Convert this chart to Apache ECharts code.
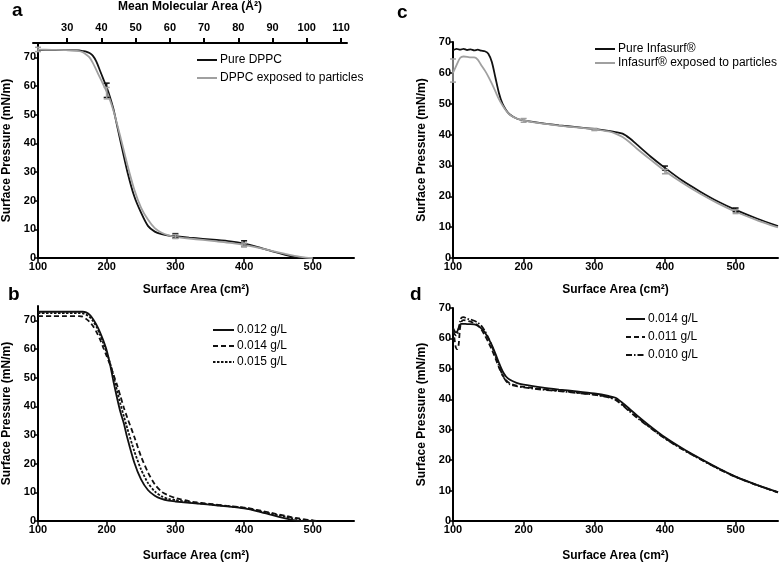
<!DOCTYPE html>
<html><head><meta charset="utf-8">
<script src="https://cdn.jsdelivr.net/npm/echarts@6/dist/echarts.min.js"></script>
<style>html,body{margin:0;padding:0;background:#fff}#c{width:779px;height:563px}</style>
</head><body><div id="c"></div>
<script>
// ---------- Panel a ----------
const aX = [100,120,140,160,165,170,175,180,185,190,195,200,205,210,215,220,230,240,250,260,270,280,290,300,320,340,360,380,400,420,440,460,470,480,490,500];
const aPure = [72.5,72.5,72.5,72.4,72.2,72.0,71.5,70.5,68.5,65.5,62.5,59.5,56.0,51.8,46.3,40.8,30.2,21.6,15.8,11.2,9.2,8.3,7.8,7.6,7.1,6.7,6.3,5.8,5.0,3.8,2.4,1.1,0.5,0.05,0,0];
const aExposed = [72.7,72.6,72.5,72.2,71.8,71.0,70.0,68.0,65.5,63.0,60.5,58.0,55.0,51.3,46.8,42.2,32.6,24.0,17.6,13.4,10.4,8.8,7.9,7.4,6.8,6.3,5.8,5.3,4.6,3.6,2.5,1.4,0.9,0.45,0.15,0];
const aPureErr = [[200,56,61],[300,7,8.5],[400,4,6]];
const aExposedErr = [[100,72,73.5],[200,55.5,59.5],[300,6.8,8.2],[400,4,5.2]];
const mmaTicks = [30,40,50,60,70,80,90,100,110];

// ---------- Panel b ----------
const bX = [100,120,140,160,165,170,175,180,185,190,195,200,205,210,215,220,225,230,240,250,260,270,280,290,300,325,350,375,400,420,440,460,470,480,490,500,505];
const b012 = [73,73,73,73,73,72.8,72,70.5,68.5,66,63,59.5,54.5,48.5,43,38,34,29,20.5,14.5,10.8,8.8,7.7,7.1,6.8,6.2,5.7,5.1,4.4,3.4,2.1,0.9,0.4,0.05,0,0,0];
const b014 = [71.5,71.5,71.5,71.5,71.3,70.5,69.5,68,66,63.5,60.5,57.5,54.5,51,47.5,43.5,39.5,36,29.5,22.5,17,12.8,10.2,8.9,8,6.7,6,5.3,4.7,3.8,2.8,1.8,1.3,0.9,0.5,0.2,0];
const b015 = [72.5,72.5,72.5,72.5,72.4,72,71.2,69.8,67.8,65.2,62,58.7,55,50.5,45.5,40.8,36.5,32.3,24.5,18,13.3,10.3,8.6,7.7,7.3,6.4,5.8,5.2,4.6,3.6,2.5,1.5,1,0.6,0.3,0.1,0];

// ---------- Panel c ----------
const cX = [100,105,110,115,120,125,130,135,140,145,150,155,160,165,170,175,180,190,200,225,250,275,300,320,330,340,350,360,380,400,425,450,475,500,530,560];
const cPure = [67.3,67.8,67.5,67.8,67.4,67.6,67.3,67.5,67.2,67.0,66.2,63.5,58.5,53.5,50.0,48.0,46.6,45.2,44.6,43.7,43.0,42.4,41.8,41.2,40.8,40.3,38.8,36.8,32.8,29.2,25.0,21.5,18.3,15.6,12.8,10.3];
const cExposed = [60.0,62.5,64.8,65.3,65.2,65.0,65.0,64.3,62.5,60.8,58.8,56.5,54.0,51.5,49.5,47.8,46.5,45.2,44.6,43.6,42.9,42.3,41.7,41.0,40.3,39.2,37.5,35.5,31.8,28.2,24.3,20.8,17.7,15.0,12.3,9.9];
const cPureErr = [[400,28.5,29.8],[500,15,16.2]];
const cExposedErr = [[100,57,64.5],[200,44,45.2],[300,41.3,42],[400,27.3,28.7],[500,14.4,15.6]];

// ---------- Panel d ----------
const dX = [100,102,104,106,108,110,112,115,120,125,130,135,140,145,150,155,160,165,170,175,180,190,200,225,250,275,300,320,330,340,350,360,380,400,425,450,475,500,530,560];
const d014 = [63.5,62.5,62,62.3,63.5,64.5,64.8,64.8,64.7,64.7,64.6,64.2,63.3,62,60,57.8,55,52,49.3,47.5,46.5,45.4,44.8,43.9,43.2,42.6,41.9,41.1,40.5,38.8,36.8,34.8,31,27.5,23.8,20.5,17.4,14.6,11.9,9.5];
const d011 = [63,60,57,56.5,58,63.5,65.5,66,65.8,65.5,65,64.3,63,61,58.8,56.3,53.5,50.5,48,46.3,45.3,44.5,44.1,43.4,42.8,42.2,41.5,40.8,40,38.2,36.3,34.3,30.6,27.2,23.6,20.4,17.3,14.5,11.8,9.4];
const d010 = [62.5,61.5,61,61.3,63,65.5,66.8,67,66.5,66.2,65.8,65.2,64.2,62.5,60.3,57.5,54.3,51,48,46,45,44.3,43.9,43.2,42.7,42.1,41.5,40.6,39.8,38,36,34,30.5,27.1,23.5,20.3,17.2,14.5,11.8,9.4];

const xTicks = [100,200,300,400,500];
const yTicksA = [0,10,20,30,40,50,60,70];

const FONT = 'Liberation Sans, Arial, sans-serif';
const BLACK = '#111';
const GRAY = '#a0a0a0';

function pairs(xs, ys){ return xs.map((x,i)=>[x, ys[i]]); }

function xAx(grid, gap){
  return {
    type:'value', gridIndex:grid, min:100, max:560, interval:100,
    position:'bottom',
    axisLine:{show:true, onZero:false, lineStyle:{color:'#000', width:2}},
    axisTick:{show:true, length:4, inside:false, lineStyle:{color:'#000', width:1.5}, customValues:xTicks},
    axisLabel:{color:'#000', fontFamily:FONT, fontWeight:'bold', fontSize:11, margin:3, customValues:xTicks},
    splitLine:{show:false},
    name:'Surface Area (cm²)', nameLocation:'middle', nameGap:gap,
    nameTextStyle:{color:'#000', fontFamily:FONT, fontWeight:'bold', fontSize:12}
  };
}
function yAx(grid, max){
  return {
    type:'value', gridIndex:grid, min:0, max:max, interval:10,
    axisLine:{show:true, onZero:false, lineStyle:{color:'#000', width:2}},
    axisTick:{show:true, length:4, lineStyle:{color:'#000', width:1.5}, customValues:yTicksA},
    axisLabel:{color:'#000', fontFamily:FONT, fontWeight:'bold', fontSize:11, margin:2, customValues:yTicksA},
    splitLine:{show:false},
    name:'Surface Pressure (mN/m)', nameLocation:'middle', nameGap:25, nameRotate:90,
    nameTextStyle:{color:'#000', fontFamily:FONT, fontWeight:'bold', fontSize:12}
  };
}

function lineS(name, xi, yi, data, color, type){
  return {
    type:'line', name:name, xAxisIndex:xi, yAxisIndex:yi, data:data,
    showSymbol:false, symbol:'none', smooth:0.25,
    lineStyle:{color:color, width:1.8, type:type||'solid'},
    itemStyle:{color:'rgba(0,0,0,0)', borderWidth:0},
    z:3, animation:false
  };
}
function errS(xi, yi, data, color){
  return {
    type:'custom', xAxisIndex:xi, yAxisIndex:yi, data:data, z:4, animation:false,
    encode:{x:0, y:[1,2]},
    renderItem:function(params, api){
      const x = api.value(0), lo = api.value(1), hi = api.value(2);
      const p1 = api.coord([x, lo]), p2 = api.coord([x, hi]);
      const w = 3;
      const st = {stroke:color, lineWidth:1.5};
      return {type:'group', children:[
        {type:'line', shape:{x1:p1[0], y1:p1[1], x2:p2[0], y2:p2[1]}, style:st},
        {type:'line', shape:{x1:p1[0]-w, y1:p1[1], x2:p1[0]+w, y2:p1[1]}, style:st},
        {type:'line', shape:{x1:p2[0]-w, y1:p2[1], x2:p2[0]+w, y2:p2[1]}, style:st}
      ]};
    }
  };
}
function legendAt(names, left, top, itemW, itemH, gap){
  return {
    data:names, orient:'vertical', left:left, top:top, itemWidth:itemW, itemHeight:itemH, itemGap:gap,
    padding:0, selectedMode:false,
    itemStyle:{opacity:0},
    textStyle:{color:'#000', fontFamily:FONT, fontSize:12, padding:[0,0,0,-2]},
    formatter:function(n){ return n.replace(/^d:/,''); }
  };
}

const chart = echarts.init(document.getElementById('c'), null, {renderer:'canvas'});
const option = {
  backgroundColor:'#fff',
  animation:false,
  grid:[
    {left:33, top:43, width:321, height:215},   // a
    {left:33, top:43, width:314, height:215},   // a top axis
    {left:33, top:306, width:321, height:217},  // b
    {left:453, top:42, width:325, height:216},  // c
    {left:453, top:308, width:325, height:217}  // d
  ],
  xAxis:[
    xAx(0, 26),
    {
      type:'value', gridIndex:1, min:20, max:111.75, interval:10, position:'top',
      axisLine:{show:true, onZero:false, lineStyle:{color:'#000', width:2}},
      axisTick:{show:true, length:5, lineStyle:{color:'#000', width:2}, customValues:mmaTicks},
      axisLabel:{color:'#000', fontFamily:FONT, fontWeight:'bold', fontSize:11, margin:10, customValues:mmaTicks},
      splitLine:{show:false},
      name:'Mean Molecular Area (Å²)', nameLocation:'middle', nameGap:30,
      nameTextStyle:{color:'#000', fontFamily:FONT, fontWeight:'bold', fontSize:12}
    },
    xAx(2, 29), xAx(3, 26), xAx(4, 29)
  ],
  yAxis:[
    yAx(0, 75),
    {type:'value', gridIndex:1, min:0, max:75, show:false},
    yAx(2, 75), yAx(3, 70), yAx(4, 70)
  ],
  legend:[
    legendAt(['Pure DPPC','DPPC exposed to particles'], 196, 54, 20, 12, 6),
    legendAt(['0.012 g/L','0.014 g/L','0.015 g/L'], 212, 324, 21, 12, 4),
    legendAt(['Pure Infasurf®','Infasurf® exposed to particles'], 594, 43, 20, 12, 2),
    legendAt(['d:0.014 g/L','d:0.011 g/L','d:0.010 g/L'], 625, 313, 19, 12, 6)
  ],
  graphic:[
    {type:'text', left:12, top:1, style:{text:'a', font:'bold 19px '+FONT, fill:'#000'}},
    {type:'text', left:8, top:285, style:{text:'b', font:'bold 19px '+FONT, fill:'#000'}},
    {type:'text', left:397, top:3, style:{text:'c', font:'bold 19px '+FONT, fill:'#000'}},
    {type:'text', left:410, top:285, style:{text:'d', font:'bold 19px '+FONT, fill:'#000'}}
  ],
  series:[
    lineS('Pure DPPC', 0, 0, pairs(aX, aPure), BLACK),
    lineS('DPPC exposed to particles', 0, 0, pairs(aX, aExposed), GRAY),
    errS(0, 0, aPureErr, BLACK),
    errS(0, 0, aExposedErr, GRAY),

    lineS('0.012 g/L', 2, 2, pairs(bX, b012), BLACK, 'solid'),
    lineS('0.014 g/L', 2, 2, pairs(bX, b014), BLACK, [5,3]),
    lineS('0.015 g/L', 2, 2, pairs(bX, b015), BLACK, [2.5,1.5]),

    lineS('Pure Infasurf®', 3, 3, pairs(cX, cPure), BLACK),
    lineS('Infasurf® exposed to particles', 3, 3, pairs(cX, cExposed), GRAY),
    errS(3, 3, cPureErr, BLACK),
    errS(3, 3, cExposedErr, GRAY),

    lineS('d:0.014 g/L', 4, 4, pairs(dX, d014), BLACK, 'solid'),
    lineS('d:0.011 g/L', 4, 4, pairs(dX, d011), BLACK, [5,3]),
    lineS('d:0.010 g/L', 4, 4, pairs(dX, d010), BLACK, [6,2,1.5,2])
  ]
};
chart.setOption(option);
</script>
</body></html>
